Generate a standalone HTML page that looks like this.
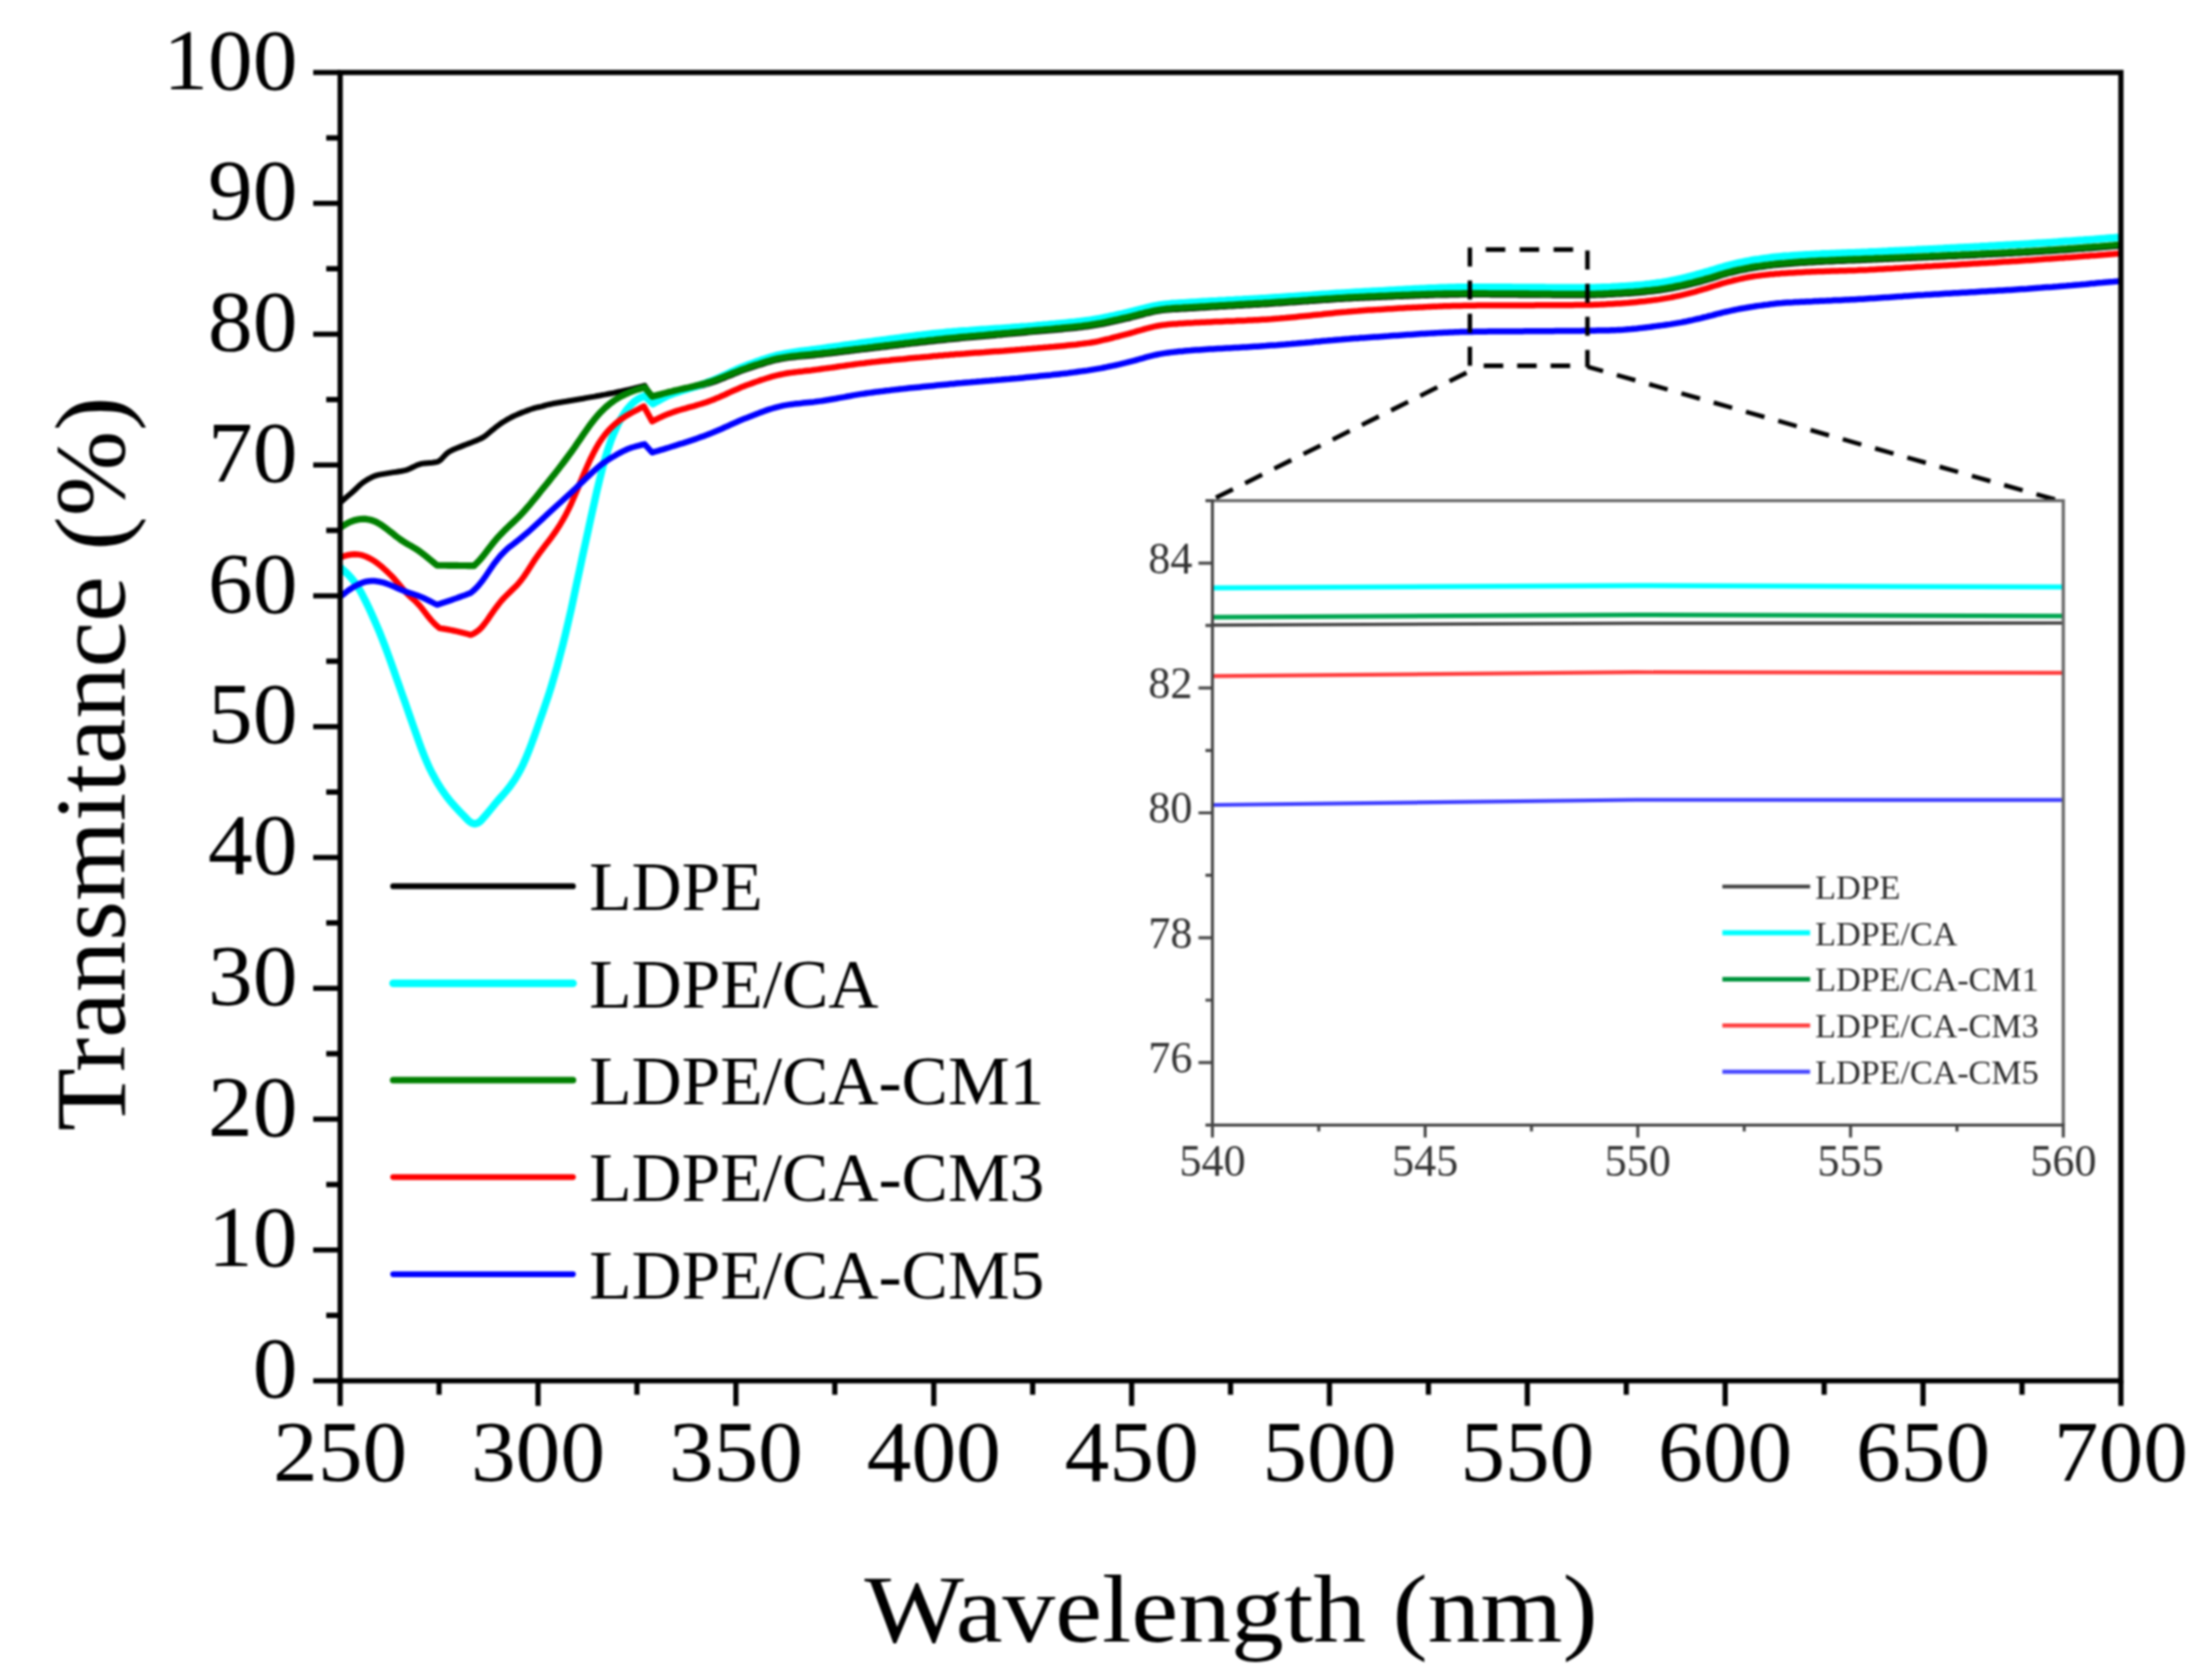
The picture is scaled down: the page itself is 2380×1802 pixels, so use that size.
<!DOCTYPE html>
<html lang="en"><head><meta charset="utf-8"><title>UV-Vis transmittance</title>
<style>html,body{margin:0;padding:0;background:#fff}body{width:2380px;height:1802px;overflow:hidden}svg{display:block;filter:blur(0.9px)}text{font-family:"Liberation Serif","DejaVu Serif",serif}</style></head><body>
<svg width="2380" height="1802" viewBox="0 0 2380 1802">
<rect width="2380" height="1802" fill="#fff"/>
<g fill="none" stroke-linejoin="round" stroke-linecap="butt">
<path d="M366.3 540.4 L369.3 537.9 L372.3 535.3 L375.3 532.8 L378.3 530.2 L381.3 527.5 L384.3 524.6 L387.3 521.8 L390.3 519.3 L393.3 517.3 L396.3 515.4 L399.3 513.8 L402.3 512.4 L405.3 511.4 L408.3 510.6 L411.3 510.1 L414.3 509.6 L417.3 509.1 L420.3 508.6 L423.4 508.1 L426.4 507.7 L429.4 507.2 L432.4 506.7 L435.4 506.1 L438.4 505.3 L441.4 504.0 L444.4 502.5 L447.4 501.1 L450.4 499.8 L453.4 498.9 L456.4 498.5 L459.4 498.2 L462.4 497.9 L465.4 497.7 L468.4 497.3 L471.4 496.6 L474.4 494.5 L477.4 491.3 L480.4 488.2 L483.4 485.9 L486.4 484.3 L489.4 483.0 L492.4 481.8 L495.4 480.6 L498.4 479.4 L501.4 478.2 L504.4 477.1 L507.4 476.0 L510.4 474.8 L513.4 473.6 L516.4 472.3 L519.4 470.8 L522.4 468.8 L525.4 466.3 L528.4 463.7 L531.5 461.3 L534.5 458.8 L537.5 456.6 L540.5 454.5 L543.5 452.7 L546.5 450.9 L549.5 449.3 L552.5 447.8 L555.5 446.4 L558.5 445.1 L561.5 443.9 L564.5 442.8 L567.5 441.6 L570.5 440.5 L573.5 439.5 L576.5 438.7 L579.5 438.0 L582.5 437.3 L585.5 436.5 L588.5 435.7 L591.5 435.0 L594.5 434.3 L597.5 433.8 L600.5 433.3 L603.5 432.8 L606.5 432.3 L609.5 431.8 L612.5 431.2 L615.5 430.7 L618.5 430.2 L621.5 429.7 L624.5 429.2 L627.5 428.7 L630.5 428.1 L633.5 427.6 L636.5 427.1 L639.6 426.6 L642.6 426.0 L645.6 425.5 L648.6 424.9 L651.6 424.4 L654.6 423.8 L657.6 423.2 L660.6 422.6 L663.6 421.9 L666.6 421.3 L669.6 420.6 L672.6 420.0 L675.6 419.3 L678.6 418.6 L681.6 417.9 L684.6 417.1 L687.6 416.4 L690.6 415.7 L693.6 414.9 L701.7 428.1 L704.7 427.3 L707.7 426.5 L710.7 425.6 L713.7 424.8 L716.7 424.1 L719.7 423.3 L722.7 422.5 L725.7 421.8 L728.7 421.1 L731.7 420.4 L734.7 419.7 L737.7 419.0 L740.7 418.4 L743.7 417.7 L746.7 417.0 L749.7 416.3 L752.7 415.5 L755.7 414.8 L758.7 414.0 L761.7 413.1 L764.7 412.2 L767.7 411.2 L770.7 410.1 L773.7 409.0 L776.7 407.8 L779.7 406.6 L782.7 405.3 L785.7 404.1 L788.7 402.9 L791.7 401.6 L794.7 400.4 L797.7 399.3 L800.7 398.2 L803.7 397.2 L806.7 396.2 L809.7 395.2 L812.7 394.2 L815.7 393.2 L818.7 392.3 L821.7 391.3 L824.7 390.4 L827.7 389.5 L830.7 388.7 L833.7 387.9 L836.7 387.2 L839.7 386.6 L842.7 386.0 L845.7 385.6 L848.7 385.1 L851.7 384.8 L854.7 384.4 L857.7 384.1 L860.7 383.8 L863.7 383.6 L866.7 383.3 L869.7 383.0 L872.7 382.7 L875.7 382.5 L878.7 382.1 L881.7 381.8 L884.7 381.5 L887.7 381.1 L890.7 380.8 L893.7 380.4 L896.7 380.1 L899.7 379.7 L902.7 379.3 L905.7 379.0 L908.7 378.6 L911.7 378.2 L914.7 377.9 L917.7 377.5 L920.7 377.1 L923.7 376.8 L926.7 376.4 L929.7 376.0 L932.7 375.7 L935.7 375.3 L938.7 375.0 L941.7 374.6 L944.7 374.2 L947.7 373.9 L950.7 373.5 L953.7 373.2 L956.7 372.8 L959.7 372.4 L962.7 372.1 L965.8 371.7 L968.8 371.3 L971.8 371.0 L974.8 370.6 L977.8 370.3 L980.8 369.9 L983.8 369.5 L986.8 369.2 L989.8 368.8 L992.8 368.5 L995.8 368.2 L998.8 367.8 L1001.8 367.5 L1004.8 367.2 L1007.8 366.8 L1010.8 366.5 L1013.8 366.2 L1016.8 365.9 L1019.8 365.6 L1022.8 365.3 L1025.8 365.0 L1028.8 364.7 L1031.8 364.4 L1034.8 364.1 L1037.8 363.8 L1040.8 363.6 L1043.8 363.3 L1046.8 363.0 L1049.8 362.7 L1052.8 362.5 L1055.8 362.2 L1058.8 361.9 L1061.8 361.7 L1064.8 361.4 L1067.8 361.2 L1070.8 360.9 L1073.8 360.6 L1076.8 360.4 L1079.8 360.1 L1082.8 359.8 L1085.8 359.6 L1088.8 359.3 L1091.8 359.0 L1094.8 358.8 L1097.8 358.5 L1100.8 358.2 L1103.8 357.9 L1106.8 357.6 L1109.8 357.3 L1112.8 357.1 L1115.8 356.8 L1118.8 356.5 L1121.8 356.3 L1124.8 356.0 L1127.8 355.7 L1130.8 355.5 L1133.8 355.2 L1136.8 354.9 L1139.8 354.7 L1142.8 354.4 L1145.8 354.1 L1148.8 353.8 L1151.8 353.5 L1154.8 353.2 L1157.8 352.9 L1160.8 352.6 L1163.8 352.2 L1166.8 351.8 L1169.8 351.5 L1172.8 351.1 L1175.8 350.6 L1178.8 350.1 L1181.8 349.6 L1184.8 349.1 L1187.8 348.5 L1190.8 347.8 L1193.8 347.2 L1196.8 346.5 L1199.8 345.8 L1202.8 345.2 L1205.8 344.5 L1208.8 343.9 L1211.8 343.2 L1214.8 342.5 L1217.8 341.7 L1220.8 340.9 L1223.8 340.1 L1226.8 339.3 L1229.8 338.5 L1232.8 337.7 L1235.8 337.0 L1238.8 336.3 L1241.8 335.6 L1244.8 335.1 L1247.8 334.6 L1250.8 334.1 L1253.8 333.8 L1256.8 333.6 L1259.8 333.3 L1262.8 333.1 L1265.8 332.9 L1268.8 332.7 L1271.8 332.5 L1274.8 332.4 L1277.8 332.2 L1280.8 332.1 L1283.8 331.9 L1286.8 331.7 L1289.8 331.5 L1292.8 331.3 L1295.8 331.2 L1298.8 331.0 L1301.8 330.8 L1304.8 330.6 L1307.8 330.5 L1310.8 330.3 L1313.8 330.1 L1316.8 330.0 L1319.8 329.8 L1322.8 329.6 L1325.8 329.5 L1328.8 329.3 L1331.8 329.1 L1334.8 328.9 L1337.8 328.8 L1340.8 328.6 L1343.8 328.4 L1346.8 328.3 L1349.8 328.1 L1352.8 327.9 L1355.8 327.7 L1358.8 327.6 L1361.8 327.4 L1364.8 327.2 L1367.8 327.0 L1370.8 326.8 L1373.8 326.6 L1376.8 326.4 L1379.8 326.2 L1382.8 326.0 L1385.8 325.8 L1388.8 325.6 L1391.8 325.4 L1394.8 325.2 L1397.8 325.0 L1400.8 324.8 L1403.8 324.6 L1406.8 324.4 L1409.8 324.1 L1412.8 323.9 L1415.8 323.7 L1418.8 323.5 L1421.8 323.3 L1424.8 323.1 L1427.8 322.9 L1430.8 322.7 L1433.8 322.5 L1436.8 322.3 L1439.8 322.1 L1442.8 322.0 L1445.8 321.8 L1448.8 321.6 L1451.8 321.4 L1454.8 321.3 L1457.8 321.1 L1460.8 321.0 L1463.8 320.8 L1466.8 320.7 L1469.8 320.5 L1472.8 320.4 L1475.8 320.3 L1478.8 320.2 L1481.8 320.0 L1484.8 319.9 L1487.8 319.8 L1490.8 319.7 L1493.9 319.5 L1496.9 319.4 L1499.9 319.3 L1502.9 319.1 L1505.9 319.0 L1508.9 318.9 L1511.9 318.8 L1514.9 318.7 L1517.9 318.5 L1520.9 318.4 L1523.9 318.3 L1526.9 318.2 L1529.9 318.1 L1532.9 318.0 L1535.9 317.9 L1538.9 317.8 L1541.9 317.7 L1544.9 317.6 L1547.9 317.6 L1550.9 317.5 L1553.9 317.4 L1556.9 317.4 L1559.9 317.3 L1562.9 317.3 L1565.9 317.2 L1568.9 317.2 L1571.9 317.1 L1574.9 317.1 L1577.9 317.1 L1580.9 317.1 L1583.9 317.1 L1586.9 317.1 L1589.9 317.1 L1592.9 317.1 L1595.9 317.1 L1598.9 317.1 L1601.9 317.1 L1604.9 317.2 L1607.9 317.2 L1610.9 317.2 L1613.9 317.2 L1616.9 317.2 L1619.9 317.3 L1622.9 317.3 L1625.9 317.3 L1628.9 317.3 L1631.9 317.3 L1634.9 317.4 L1637.9 317.4 L1640.9 317.4 L1643.9 317.4 L1646.9 317.5 L1649.9 317.5 L1652.9 317.5 L1655.9 317.5 L1658.9 317.6 L1661.9 317.6 L1664.9 317.6 L1667.9 317.6 L1670.9 317.7 L1673.9 317.7 L1676.9 317.7 L1679.9 317.7 L1682.9 317.7 L1685.9 317.7 L1688.9 317.8 L1691.9 317.8 L1694.9 317.8 L1697.9 317.8 L1700.9 317.8 L1703.9 317.8 L1706.9 317.8 L1709.9 317.8 L1712.9 317.8 L1715.9 317.7 L1718.9 317.6 L1721.9 317.5 L1724.9 317.4 L1727.9 317.2 L1730.9 317.1 L1733.9 316.9 L1736.9 316.8 L1739.9 316.6 L1742.9 316.5 L1745.9 316.3 L1748.9 316.1 L1751.9 315.9 L1754.9 315.7 L1757.9 315.5 L1760.9 315.2 L1763.9 315.0 L1766.9 314.7 L1769.9 314.4 L1772.9 314.1 L1775.9 313.8 L1778.9 313.5 L1781.9 313.1 L1784.9 312.8 L1787.9 312.3 L1790.9 311.9 L1793.9 311.3 L1796.9 310.8 L1799.9 310.2 L1802.9 309.6 L1805.9 309.0 L1808.9 308.4 L1811.9 307.8 L1814.9 307.1 L1817.9 306.4 L1820.9 305.6 L1823.9 304.9 L1826.9 304.1 L1829.9 303.3 L1832.9 302.4 L1835.9 301.6 L1838.9 300.7 L1841.9 299.8 L1844.9 298.9 L1847.9 297.9 L1850.9 296.9 L1853.9 296.0 L1856.9 295.1 L1859.9 294.2 L1862.9 293.5 L1865.9 292.8 L1868.9 292.1 L1871.9 291.4 L1874.9 290.8 L1877.9 290.2 L1880.9 289.6 L1883.9 289.1 L1886.9 288.6 L1889.9 288.1 L1892.9 287.6 L1895.9 287.2 L1898.9 286.8 L1901.9 286.4 L1904.9 286.0 L1907.9 285.6 L1910.9 285.3 L1913.9 285.0 L1916.9 284.7 L1919.9 284.4 L1922.9 284.2 L1925.9 284.0 L1928.9 283.7 L1931.9 283.5 L1934.9 283.3 L1937.9 283.1 L1940.9 282.9 L1943.9 282.8 L1946.9 282.6 L1949.9 282.4 L1952.9 282.3 L1955.9 282.1 L1958.9 281.9 L1961.9 281.8 L1964.9 281.6 L1967.9 281.5 L1970.9 281.4 L1973.9 281.2 L1976.9 281.1 L1979.9 281.0 L1982.9 280.9 L1985.9 280.8 L1988.9 280.6 L1991.9 280.5 L1994.9 280.4 L1997.9 280.3 L2000.9 280.2 L2003.9 280.0 L2006.9 279.9 L2009.9 279.8 L2012.9 279.7 L2015.9 279.5 L2019.0 279.4 L2022.0 279.3 L2025.0 279.2 L2028.0 279.1 L2031.0 279.0 L2034.0 278.8 L2037.0 278.7 L2040.0 278.6 L2043.0 278.5 L2046.0 278.3 L2049.0 278.2 L2052.0 278.1 L2055.0 278.0 L2058.0 277.8 L2061.0 277.7 L2064.0 277.6 L2067.0 277.5 L2070.0 277.3 L2073.0 277.2 L2076.0 277.1 L2079.0 276.9 L2082.0 276.8 L2085.0 276.7 L2088.0 276.5 L2091.0 276.4 L2094.0 276.3 L2097.0 276.1 L2100.0 276.0 L2103.0 275.9 L2106.0 275.7 L2109.0 275.6 L2112.0 275.4 L2115.0 275.3 L2118.0 275.2 L2121.0 275.0 L2124.0 274.9 L2127.0 274.7 L2130.0 274.6 L2133.0 274.4 L2136.0 274.3 L2139.0 274.1 L2142.0 274.0 L2145.0 273.8 L2148.0 273.7 L2151.0 273.5 L2154.0 273.4 L2157.0 273.2 L2160.0 273.1 L2163.0 272.9 L2166.0 272.7 L2169.0 272.6 L2172.0 272.4 L2175.0 272.2 L2178.0 272.1 L2181.0 271.9 L2184.0 271.7 L2187.0 271.5 L2190.0 271.3 L2193.0 271.2 L2196.0 271.0 L2199.0 270.8 L2202.0 270.6 L2205.0 270.4 L2208.0 270.2 L2211.0 270.0 L2214.0 269.8 L2217.0 269.6 L2220.0 269.4 L2223.0 269.2 L2226.0 269.0 L2229.0 268.7 L2232.0 268.5 L2235.0 268.3 L2238.0 268.1 L2241.0 267.9 L2244.0 267.6 L2247.0 267.4 L2250.0 267.2 L2253.0 266.9 L2256.0 266.7 L2259.0 266.5 L2262.0 266.2 L2265.0 266.0 L2268.0 265.8 L2271.0 265.5 L2274.0 265.3 L2277.0 265.0 L2280.0 264.8" stroke="#000" stroke-width="6.0"/>
<path d="M366.3 610.5 L369.3 613.2 L372.3 616.0 L375.3 618.9 L378.3 622.2 L381.3 625.9 L384.3 630.3 L387.3 635.2 L390.3 640.7 L393.3 646.6 L396.3 652.8 L399.3 659.3 L402.3 666.0 L405.3 672.8 L408.3 679.9 L411.3 687.4 L414.3 695.2 L417.3 703.3 L420.3 711.7 L423.3 720.1 L426.3 728.7 L429.3 737.2 L432.3 745.8 L435.4 754.4 L438.4 763.0 L441.4 771.6 L444.4 780.2 L447.4 788.7 L450.4 797.1 L453.4 805.3 L456.4 813.0 L459.4 820.2 L462.4 826.8 L465.4 832.7 L468.4 838.2 L471.4 843.4 L474.4 848.2 L477.4 852.6 L480.4 856.8 L483.4 860.6 L486.4 864.1 L489.4 867.5 L492.4 870.7 L495.4 873.9 L498.4 877.0 L501.4 880.1 L504.4 883.2 L504.4 883.2 L507.6 885.4 L510.8 886.3 L514.1 885.4 L517.3 883.2 L517.3 883.2 L520.3 879.7 L523.4 876.1 L526.4 872.5 L529.5 868.8 L532.5 865.1 L535.5 861.5 L538.6 858.0 L541.6 854.6 L544.7 851.0 L547.7 847.3 L550.7 843.2 L553.8 838.8 L556.8 833.8 L559.9 828.3 L562.9 822.2 L565.9 815.3 L569.0 807.8 L572.0 799.9 L575.1 791.5 L578.1 783.0 L581.1 774.3 L584.2 765.6 L587.2 756.7 L590.3 747.6 L593.3 738.0 L596.3 727.8 L599.4 717.1 L602.4 705.8 L605.5 694.0 L608.5 681.7 L611.5 668.8 L614.6 655.4 L617.6 641.4 L620.6 627.2 L623.7 612.9 L626.7 598.7 L629.8 584.7 L632.8 570.8 L635.8 556.9 L638.9 543.1 L641.9 529.6 L645.0 516.6 L648.0 504.5 L651.0 493.5 L654.1 483.5 L657.1 474.6 L660.2 466.8 L663.2 459.9 L666.2 453.8 L669.3 448.4 L672.3 443.7 L675.4 439.5 L678.4 436.0 L681.4 433.0 L684.5 430.6 L687.5 428.7 L690.6 427.1 L693.6 425.8 L702.6 434.4 L705.6 432.6 L708.6 430.9 L711.6 429.2 L714.6 427.6 L717.6 426.2 L720.6 424.9 L723.6 423.7 L726.6 422.6 L729.6 421.6 L732.6 420.6 L735.7 419.7 L738.7 418.8 L741.7 418.0 L744.7 417.0 L747.7 416.1 L750.7 415.1 L753.7 414.1 L756.7 413.0 L759.7 412.0 L762.7 410.8 L765.7 409.6 L768.7 408.4 L771.7 407.1 L774.7 405.8 L777.7 404.4 L780.7 403.0 L783.7 401.6 L786.7 400.2 L789.7 398.8 L792.7 397.5 L795.7 396.2 L798.7 394.9 L801.8 393.7 L804.8 392.6 L807.8 391.5 L810.8 390.4 L813.8 389.3 L816.8 388.3 L819.8 387.2 L822.8 386.3 L825.8 385.3 L828.8 384.4 L831.8 383.5 L834.8 382.7 L837.8 382.0 L840.8 381.3 L843.8 380.7 L846.8 380.1 L849.8 379.6 L852.8 379.1 L855.8 378.6 L858.8 378.2 L861.8 377.8 L864.8 377.4 L867.9 377.1 L870.9 376.7 L873.9 376.3 L876.9 375.9 L879.9 375.5 L882.9 375.1 L885.9 374.7 L888.9 374.3 L891.9 373.8 L894.9 373.4 L897.9 373.0 L900.9 372.6 L903.9 372.2 L906.9 371.7 L909.9 371.3 L912.9 370.9 L915.9 370.5 L918.9 370.1 L921.9 369.7 L924.9 369.2 L927.9 368.8 L930.9 368.4 L934.0 368.0 L937.0 367.6 L940.0 367.2 L943.0 366.8 L946.0 366.4 L949.0 366.0 L952.0 365.6 L955.0 365.2 L958.0 364.8 L961.0 364.4 L964.0 364.0 L967.0 363.6 L970.0 363.2 L973.0 362.8 L976.0 362.4 L979.0 362.0 L982.0 361.6 L985.0 361.2 L988.0 360.8 L991.0 360.5 L994.0 360.1 L997.0 359.8 L1000.1 359.4 L1003.1 359.1 L1006.1 358.8 L1009.1 358.5 L1012.1 358.2 L1015.1 357.9 L1018.1 357.6 L1021.1 357.3 L1024.1 357.1 L1027.1 356.8 L1030.1 356.6 L1033.1 356.3 L1036.1 356.1 L1039.1 355.9 L1042.1 355.7 L1045.1 355.4 L1048.1 355.2 L1051.1 355.0 L1054.1 354.8 L1057.1 354.6 L1060.1 354.4 L1063.1 354.2 L1066.2 354.0 L1069.2 353.8 L1072.2 353.6 L1075.2 353.4 L1078.2 353.2 L1081.2 353.0 L1084.2 352.8 L1087.2 352.6 L1090.2 352.3 L1093.2 352.1 L1096.2 351.9 L1099.2 351.6 L1102.2 351.4 L1105.2 351.2 L1108.2 350.9 L1111.2 350.7 L1114.2 350.4 L1117.2 350.1 L1120.2 349.9 L1123.2 349.6 L1126.2 349.4 L1129.2 349.1 L1132.3 348.8 L1135.3 348.6 L1138.3 348.3 L1141.3 348.0 L1144.3 347.7 L1147.3 347.4 L1150.3 347.1 L1153.3 346.8 L1156.3 346.5 L1159.3 346.1 L1162.3 345.8 L1165.3 345.4 L1168.3 345.0 L1171.3 344.6 L1174.3 344.2 L1177.3 343.7 L1180.3 343.2 L1183.3 342.7 L1186.3 342.1 L1189.3 341.5 L1192.3 340.9 L1195.3 340.2 L1198.4 339.6 L1201.4 338.9 L1204.4 338.2 L1207.4 337.6 L1210.4 336.9 L1213.4 336.2 L1216.4 335.4 L1219.4 334.7 L1222.4 333.9 L1225.4 333.1 L1228.4 332.3 L1231.4 331.6 L1234.4 330.8 L1237.4 330.1 L1240.4 329.5 L1243.4 328.9 L1246.4 328.3 L1249.4 327.9 L1252.4 327.5 L1255.4 327.2 L1258.4 326.9 L1261.5 326.6 L1264.5 326.4 L1267.5 326.2 L1270.5 326.0 L1273.5 325.9 L1276.5 325.7 L1279.5 325.5 L1282.5 325.3 L1285.5 325.2 L1288.5 325.0 L1291.5 324.8 L1294.5 324.6 L1297.5 324.5 L1300.5 324.3 L1303.5 324.1 L1306.5 323.9 L1309.5 323.8 L1312.5 323.6 L1315.5 323.4 L1318.5 323.3 L1321.5 323.1 L1324.5 322.9 L1327.6 322.8 L1330.6 322.6 L1333.6 322.4 L1336.6 322.3 L1339.6 322.1 L1342.6 321.9 L1345.6 321.7 L1348.6 321.6 L1351.6 321.4 L1354.6 321.2 L1357.6 321.0 L1360.6 320.9 L1363.6 320.7 L1366.6 320.5 L1369.6 320.3 L1372.6 320.1 L1375.6 319.9 L1378.6 319.7 L1381.6 319.5 L1384.6 319.3 L1387.6 319.1 L1390.6 318.9 L1393.7 318.7 L1396.7 318.5 L1399.7 318.3 L1402.7 318.1 L1405.7 317.9 L1408.7 317.7 L1411.7 317.5 L1414.7 317.2 L1417.7 317.0 L1420.7 316.8 L1423.7 316.6 L1426.7 316.4 L1429.7 316.2 L1432.7 316.0 L1435.7 315.8 L1438.7 315.6 L1441.7 315.4 L1444.7 315.2 L1447.7 315.1 L1450.7 314.9 L1453.7 314.7 L1456.7 314.5 L1459.8 314.3 L1462.8 314.2 L1465.8 314.0 L1468.8 313.8 L1471.8 313.7 L1474.8 313.5 L1477.8 313.3 L1480.8 313.2 L1483.8 313.0 L1486.8 312.9 L1489.8 312.7 L1492.8 312.5 L1495.8 312.3 L1498.8 312.2 L1501.8 312.0 L1504.8 311.8 L1507.8 311.7 L1510.8 311.5 L1513.8 311.3 L1516.8 311.2 L1519.8 311.0 L1522.8 310.8 L1525.9 310.7 L1528.9 310.5 L1531.9 310.4 L1534.9 310.2 L1537.9 310.1 L1540.9 310.0 L1543.9 309.9 L1546.9 309.7 L1549.9 309.6 L1552.9 309.5 L1555.9 309.4 L1558.9 309.3 L1561.9 309.3 L1564.9 309.2 L1567.9 309.1 L1570.9 309.1 L1573.9 309.1 L1576.9 309.0 L1579.9 309.0 L1582.9 309.0 L1585.9 309.0 L1588.9 309.0 L1592.0 309.0 L1595.0 309.0 L1598.0 309.0 L1601.0 309.0 L1604.0 309.0 L1607.0 309.1 L1610.0 309.1 L1613.0 309.1 L1616.0 309.1 L1619.0 309.1 L1622.0 309.1 L1625.0 309.1 L1628.0 309.2 L1631.0 309.2 L1634.0 309.2 L1637.0 309.2 L1640.0 309.2 L1643.0 309.2 L1646.0 309.3 L1649.0 309.3 L1652.0 309.3 L1655.0 309.3 L1658.1 309.3 L1661.1 309.3 L1664.1 309.4 L1667.1 309.4 L1670.1 309.4 L1673.1 309.4 L1676.1 309.4 L1679.1 309.4 L1682.1 309.4 L1685.1 309.5 L1688.1 309.5 L1691.1 309.5 L1694.1 309.5 L1697.1 309.5 L1700.1 309.5 L1703.1 309.5 L1706.1 309.5 L1709.1 309.5 L1712.1 309.4 L1715.1 309.4 L1718.1 309.3 L1721.1 309.2 L1724.2 309.1 L1727.2 309.0 L1730.2 308.9 L1733.2 308.8 L1736.2 308.6 L1739.2 308.5 L1742.2 308.3 L1745.2 308.1 L1748.2 307.9 L1751.2 307.7 L1754.2 307.5 L1757.2 307.3 L1760.2 307.0 L1763.2 306.7 L1766.2 306.5 L1769.2 306.2 L1772.2 305.8 L1775.2 305.5 L1778.2 305.1 L1781.2 304.8 L1784.2 304.3 L1787.3 303.9 L1790.3 303.4 L1793.3 302.9 L1796.3 302.3 L1799.3 301.7 L1802.3 301.1 L1805.3 300.5 L1808.3 299.8 L1811.3 299.1 L1814.3 298.4 L1817.3 297.6 L1820.3 296.8 L1823.3 296.0 L1826.3 295.2 L1829.3 294.4 L1832.3 293.5 L1835.3 292.6 L1838.3 291.8 L1841.3 290.9 L1844.3 290.0 L1847.3 289.0 L1850.3 288.1 L1853.4 287.3 L1856.4 286.4 L1859.4 285.6 L1862.4 284.8 L1865.4 284.1 L1868.4 283.4 L1871.4 282.7 L1874.4 282.1 L1877.4 281.5 L1880.4 280.9 L1883.4 280.3 L1886.4 279.8 L1889.4 279.3 L1892.4 278.9 L1895.4 278.4 L1898.4 278.0 L1901.4 277.6 L1904.4 277.2 L1907.4 276.8 L1910.4 276.5 L1913.4 276.2 L1916.4 275.9 L1919.5 275.6 L1922.5 275.4 L1925.5 275.2 L1928.5 274.9 L1931.5 274.7 L1934.5 274.6 L1937.5 274.4 L1940.5 274.2 L1943.5 274.0 L1946.5 273.9 L1949.5 273.7 L1952.5 273.6 L1955.5 273.4 L1958.5 273.3 L1961.5 273.1 L1964.5 273.0 L1967.5 272.9 L1970.5 272.8 L1973.5 272.7 L1976.5 272.6 L1979.5 272.5 L1982.5 272.3 L1985.6 272.2 L1988.6 272.1 L1991.6 272.0 L1994.6 271.9 L1997.6 271.8 L2000.6 271.7 L2003.6 271.5 L2006.6 271.4 L2009.6 271.3 L2012.6 271.1 L2015.6 271.0 L2018.6 270.9 L2021.6 270.7 L2024.6 270.6 L2027.6 270.4 L2030.6 270.3 L2033.6 270.1 L2036.6 270.0 L2039.6 269.8 L2042.6 269.7 L2045.6 269.5 L2048.6 269.4 L2051.7 269.2 L2054.7 269.1 L2057.7 268.9 L2060.7 268.8 L2063.7 268.6 L2066.7 268.5 L2069.7 268.3 L2072.7 268.2 L2075.7 268.0 L2078.7 267.9 L2081.7 267.7 L2084.7 267.6 L2087.7 267.4 L2090.7 267.3 L2093.7 267.1 L2096.7 267.0 L2099.7 266.8 L2102.7 266.7 L2105.7 266.5 L2108.7 266.3 L2111.7 266.2 L2114.7 266.0 L2117.8 265.9 L2120.8 265.7 L2123.8 265.6 L2126.8 265.4 L2129.8 265.3 L2132.8 265.1 L2135.8 264.9 L2138.8 264.8 L2141.8 264.6 L2144.8 264.5 L2147.8 264.3 L2150.8 264.1 L2153.8 264.0 L2156.8 263.8 L2159.8 263.6 L2162.8 263.5 L2165.8 263.3 L2168.8 263.1 L2171.8 262.9 L2174.8 262.7 L2177.8 262.6 L2180.8 262.4 L2183.9 262.2 L2186.9 262.0 L2189.9 261.8 L2192.9 261.6 L2195.9 261.4 L2198.9 261.2 L2201.9 261.1 L2204.9 260.9 L2207.9 260.7 L2210.9 260.5 L2213.9 260.3 L2216.9 260.0 L2219.9 259.8 L2222.9 259.6 L2225.9 259.4 L2228.9 259.2 L2231.9 259.0 L2234.9 258.8 L2237.9 258.6 L2240.9 258.4 L2243.9 258.1 L2246.9 257.9 L2250.0 257.7 L2253.0 257.5 L2256.0 257.2 L2259.0 257.0 L2262.0 256.8 L2265.0 256.6 L2268.0 256.3 L2271.0 256.1 L2274.0 255.9 L2277.0 255.6 L2280.0 255.4" stroke="#00ffff" stroke-width="8.0"/>
<path d="M366.3 567.5 L369.4 565.5 L372.4 563.7 L375.5 562.1 L378.5 560.8 L381.6 559.7 L384.7 559.0 L387.7 558.5 L390.8 558.3 L393.8 558.4 L396.9 558.9 L399.9 559.7 L403.0 560.8 L406.1 562.3 L409.1 564.0 L412.2 566.1 L415.2 568.3 L418.3 570.7 L421.4 573.1 L424.4 575.6 L427.5 578.0 L430.5 580.2 L433.6 582.3 L436.7 584.2 L439.7 586.0 L442.8 587.7 L445.8 589.5 L448.9 591.4 L451.9 593.5 L455.0 595.8 L458.1 598.2 L461.1 600.7 L464.2 603.2 L467.2 605.7 L470.3 608.2 L470.3 608.2 L473.4 608.2 L476.4 608.3 L479.5 608.3 L482.5 608.4 L485.6 608.4 L488.6 608.4 L491.7 608.4 L494.7 608.5 L497.8 608.5 L500.8 608.5 L503.9 608.6 L506.9 608.6 L510.0 608.6 L510.0 608.6 L513.0 605.7 L516.0 602.6 L519.0 599.2 L522.0 595.3 L525.0 591.3 L528.1 587.3 L531.1 583.5 L534.1 579.9 L537.1 576.6 L540.1 573.5 L543.1 570.4 L546.1 567.5 L549.1 564.7 L552.1 561.9 L555.1 559.0 L558.2 556.0 L561.2 552.9 L564.2 549.6 L567.2 546.2 L570.2 542.7 L573.2 539.1 L576.2 535.4 L579.2 531.7 L582.2 527.9 L585.2 524.2 L588.3 520.5 L591.3 516.7 L594.3 512.9 L597.3 509.2 L600.3 505.3 L603.3 501.4 L606.3 497.5 L609.3 493.5 L612.3 489.4 L615.3 485.3 L618.4 481.0 L621.4 476.6 L624.4 472.2 L627.4 467.8 L630.4 463.5 L633.4 459.2 L636.4 455.2 L639.4 451.3 L642.4 447.7 L645.4 444.3 L648.5 441.2 L651.5 438.3 L654.5 435.7 L657.5 433.3 L660.5 431.1 L663.5 429.1 L666.5 427.3 L669.5 425.7 L672.5 424.2 L675.5 422.9 L678.6 421.6 L681.6 420.5 L684.6 419.4 L687.6 418.5 L690.6 417.6 L693.6 416.7 L701.7 426.6 L704.7 425.8 L707.7 425.0 L710.7 424.2 L713.7 423.4 L716.7 422.6 L719.7 421.8 L722.7 421.1 L725.7 420.3 L728.7 419.6 L731.7 418.9 L734.7 418.2 L737.7 417.5 L740.7 416.9 L743.7 416.2 L746.7 415.5 L749.7 414.7 L752.7 414.0 L755.7 413.2 L758.7 412.4 L761.7 411.5 L764.7 410.6 L767.7 409.6 L770.7 408.5 L773.7 407.4 L776.7 406.2 L779.7 405.0 L782.7 403.8 L785.7 402.6 L788.7 401.4 L791.7 400.2 L794.7 399.0 L797.7 397.9 L800.7 396.8 L803.7 395.8 L806.7 394.7 L809.7 393.7 L812.7 392.7 L815.7 391.8 L818.7 390.8 L821.7 389.9 L824.7 389.0 L827.7 388.1 L830.7 387.3 L833.7 386.5 L836.7 385.8 L839.7 385.2 L842.7 384.7 L845.7 384.2 L848.7 383.7 L851.7 383.3 L854.7 383.0 L857.7 382.7 L860.7 382.4 L863.7 382.1 L866.7 381.8 L869.7 381.5 L872.7 381.2 L875.7 380.9 L878.7 380.6 L881.7 380.3 L884.7 379.9 L887.7 379.6 L890.7 379.3 L893.7 378.9 L896.7 378.5 L899.7 378.2 L902.7 377.8 L905.7 377.5 L908.7 377.1 L911.7 376.7 L914.7 376.4 L917.7 376.0 L920.7 375.6 L923.7 375.3 L926.7 374.9 L929.7 374.5 L932.7 374.2 L935.7 373.8 L938.7 373.5 L941.7 373.1 L944.7 372.7 L947.7 372.4 L950.7 372.0 L953.7 371.6 L956.7 371.3 L959.7 370.9 L962.7 370.6 L965.8 370.2 L968.8 369.8 L971.8 369.5 L974.8 369.1 L977.8 368.8 L980.8 368.4 L983.8 368.0 L986.8 367.7 L989.8 367.3 L992.8 367.0 L995.8 366.7 L998.8 366.3 L1001.8 366.0 L1004.8 365.7 L1007.8 365.3 L1010.8 365.0 L1013.8 364.7 L1016.8 364.4 L1019.8 364.1 L1022.8 363.8 L1025.8 363.5 L1028.8 363.2 L1031.8 362.9 L1034.8 362.6 L1037.8 362.3 L1040.8 362.1 L1043.8 361.8 L1046.8 361.5 L1049.8 361.3 L1052.8 361.0 L1055.8 360.7 L1058.8 360.5 L1061.8 360.2 L1064.8 359.9 L1067.8 359.7 L1070.8 359.4 L1073.8 359.1 L1076.8 358.9 L1079.8 358.6 L1082.8 358.3 L1085.8 358.1 L1088.8 357.8 L1091.8 357.5 L1094.8 357.2 L1097.8 357.0 L1100.8 356.7 L1103.8 356.4 L1106.8 356.1 L1109.8 355.9 L1112.8 355.6 L1115.8 355.3 L1118.8 355.0 L1121.8 354.8 L1124.8 354.5 L1127.8 354.2 L1130.8 354.0 L1133.8 353.7 L1136.8 353.4 L1139.8 353.2 L1142.8 352.9 L1145.8 352.6 L1148.8 352.3 L1151.8 352.0 L1154.8 351.7 L1157.8 351.4 L1160.8 351.0 L1163.8 350.7 L1166.8 350.3 L1169.8 349.9 L1172.8 349.5 L1175.8 349.0 L1178.8 348.6 L1181.8 348.0 L1184.8 347.5 L1187.8 346.9 L1190.8 346.3 L1193.8 345.6 L1196.8 345.0 L1199.8 344.3 L1202.8 343.7 L1205.8 343.0 L1208.8 342.3 L1211.8 341.6 L1214.8 340.9 L1217.8 340.2 L1220.8 339.4 L1223.8 338.6 L1226.8 337.8 L1229.8 337.1 L1232.8 336.3 L1235.8 335.6 L1238.8 334.9 L1241.8 334.3 L1244.8 333.7 L1247.8 333.2 L1250.8 332.8 L1253.8 332.4 L1256.8 332.1 L1259.8 331.9 L1262.8 331.6 L1265.8 331.4 L1268.8 331.2 L1271.8 331.1 L1274.8 330.9 L1277.8 330.7 L1280.8 330.5 L1283.8 330.4 L1286.8 330.2 L1289.8 330.0 L1292.8 329.8 L1295.8 329.7 L1298.8 329.5 L1301.8 329.3 L1304.8 329.1 L1307.8 329.0 L1310.8 328.8 L1313.8 328.6 L1316.8 328.5 L1319.8 328.3 L1322.8 328.1 L1325.8 328.0 L1328.8 327.8 L1331.8 327.6 L1334.8 327.4 L1337.8 327.3 L1340.8 327.1 L1343.8 326.9 L1346.8 326.8 L1349.8 326.6 L1352.8 326.4 L1355.8 326.2 L1358.8 326.1 L1361.8 325.9 L1364.8 325.7 L1367.8 325.5 L1370.8 325.3 L1373.8 325.1 L1376.8 324.9 L1379.8 324.7 L1382.8 324.5 L1385.8 324.3 L1388.8 324.1 L1391.8 323.9 L1394.8 323.7 L1397.8 323.5 L1400.8 323.3 L1403.8 323.1 L1406.8 322.9 L1409.8 322.6 L1412.8 322.4 L1415.8 322.2 L1418.8 322.0 L1421.8 321.8 L1424.8 321.6 L1427.8 321.4 L1430.8 321.2 L1433.8 321.0 L1436.8 320.8 L1439.8 320.6 L1442.8 320.5 L1445.8 320.3 L1448.8 320.1 L1451.8 319.9 L1454.8 319.8 L1457.8 319.6 L1460.8 319.5 L1463.8 319.3 L1466.8 319.2 L1469.8 319.0 L1472.8 318.9 L1475.8 318.8 L1478.8 318.7 L1481.8 318.5 L1484.8 318.4 L1487.8 318.3 L1490.8 318.2 L1493.9 318.0 L1496.9 317.9 L1499.9 317.8 L1502.9 317.6 L1505.9 317.5 L1508.9 317.4 L1511.9 317.3 L1514.9 317.2 L1517.9 317.0 L1520.9 316.9 L1523.9 316.8 L1526.9 316.7 L1529.9 316.6 L1532.9 316.5 L1535.9 316.4 L1538.9 316.3 L1541.9 316.2 L1544.9 316.1 L1547.9 316.1 L1550.9 316.0 L1553.9 315.9 L1556.9 315.9 L1559.9 315.8 L1562.9 315.8 L1565.9 315.7 L1568.9 315.7 L1571.9 315.7 L1574.9 315.6 L1577.9 315.6 L1580.9 315.6 L1583.9 315.6 L1586.9 315.6 L1589.9 315.6 L1592.9 315.6 L1595.9 315.6 L1598.9 315.6 L1601.9 315.7 L1604.9 315.7 L1607.9 315.7 L1610.9 315.7 L1613.9 315.7 L1616.9 315.7 L1619.9 315.8 L1622.9 315.8 L1625.9 315.8 L1628.9 315.8 L1631.9 315.8 L1634.9 315.9 L1637.9 315.9 L1640.9 315.9 L1643.9 315.9 L1646.9 316.0 L1649.9 316.0 L1652.9 316.0 L1655.9 316.0 L1658.9 316.1 L1661.9 316.1 L1664.9 316.1 L1667.9 316.1 L1670.9 316.2 L1673.9 316.2 L1676.9 316.2 L1679.9 316.2 L1682.9 316.2 L1685.9 316.2 L1688.9 316.3 L1691.9 316.3 L1694.9 316.3 L1697.9 316.3 L1700.9 316.3 L1703.9 316.3 L1706.9 316.3 L1709.9 316.3 L1712.9 316.2 L1715.9 316.2 L1718.9 316.1 L1721.9 316.0 L1724.9 315.9 L1727.9 315.7 L1730.9 315.6 L1733.9 315.4 L1736.9 315.3 L1739.9 315.1 L1742.9 315.0 L1745.9 314.8 L1748.9 314.6 L1751.9 314.4 L1754.9 314.2 L1757.9 314.0 L1760.9 313.7 L1763.9 313.5 L1766.9 313.2 L1769.9 312.9 L1772.9 312.6 L1775.9 312.3 L1778.9 311.9 L1781.9 311.6 L1784.9 311.2 L1787.9 310.7 L1790.9 310.3 L1793.9 309.8 L1796.9 309.2 L1799.9 308.7 L1802.9 308.1 L1805.9 307.5 L1808.9 306.9 L1811.9 306.2 L1814.9 305.5 L1817.9 304.8 L1820.9 304.1 L1823.9 303.3 L1826.9 302.5 L1829.9 301.7 L1832.9 300.9 L1835.9 300.0 L1838.9 299.2 L1841.9 298.3 L1844.9 297.3 L1847.9 296.4 L1850.9 295.5 L1853.9 294.6 L1856.9 293.7 L1859.9 292.9 L1862.9 292.1 L1865.9 291.3 L1868.9 290.6 L1871.9 290.0 L1874.9 289.4 L1877.9 288.8 L1880.9 288.2 L1883.9 287.6 L1886.9 287.1 L1889.9 286.6 L1892.9 286.2 L1895.9 285.7 L1898.9 285.3 L1901.9 284.9 L1904.9 284.5 L1907.9 284.2 L1910.9 283.8 L1913.9 283.5 L1916.9 283.2 L1919.9 283.0 L1922.9 282.7 L1925.9 282.5 L1928.9 282.3 L1931.9 282.0 L1934.9 281.8 L1937.9 281.6 L1940.9 281.5 L1943.9 281.3 L1946.9 281.1 L1949.9 280.9 L1952.9 280.8 L1955.9 280.6 L1958.9 280.4 L1961.9 280.3 L1964.9 280.2 L1967.9 280.0 L1970.9 279.9 L1973.9 279.8 L1976.9 279.6 L1979.9 279.5 L1982.9 279.4 L1985.9 279.3 L1988.9 279.1 L1991.9 279.0 L1994.9 278.9 L1997.9 278.8 L2000.9 278.7 L2003.9 278.5 L2006.9 278.4 L2009.9 278.3 L2012.9 278.2 L2015.9 278.1 L2019.0 277.9 L2022.0 277.8 L2025.0 277.7 L2028.0 277.6 L2031.0 277.5 L2034.0 277.3 L2037.0 277.2 L2040.0 277.1 L2043.0 277.0 L2046.0 276.8 L2049.0 276.7 L2052.0 276.6 L2055.0 276.5 L2058.0 276.3 L2061.0 276.2 L2064.0 276.1 L2067.0 276.0 L2070.0 275.8 L2073.0 275.7 L2076.0 275.6 L2079.0 275.4 L2082.0 275.3 L2085.0 275.2 L2088.0 275.0 L2091.0 274.9 L2094.0 274.8 L2097.0 274.6 L2100.0 274.5 L2103.0 274.4 L2106.0 274.2 L2109.0 274.1 L2112.0 273.9 L2115.0 273.8 L2118.0 273.7 L2121.0 273.5 L2124.0 273.4 L2127.0 273.2 L2130.0 273.1 L2133.0 272.9 L2136.0 272.8 L2139.0 272.6 L2142.0 272.5 L2145.0 272.3 L2148.0 272.2 L2151.0 272.0 L2154.0 271.9 L2157.0 271.7 L2160.0 271.6 L2163.0 271.4 L2166.0 271.2 L2169.0 271.1 L2172.0 270.9 L2175.0 270.7 L2178.0 270.6 L2181.0 270.4 L2184.0 270.2 L2187.0 270.0 L2190.0 269.8 L2193.0 269.7 L2196.0 269.5 L2199.0 269.3 L2202.0 269.1 L2205.0 268.9 L2208.0 268.7 L2211.0 268.5 L2214.0 268.3 L2217.0 268.1 L2220.0 267.9 L2223.0 267.7 L2226.0 267.4 L2229.0 267.2 L2232.0 267.0 L2235.0 266.8 L2238.0 266.6 L2241.0 266.4 L2244.0 266.1 L2247.0 265.9 L2250.0 265.7 L2253.0 265.4 L2256.0 265.2 L2259.0 265.0 L2262.0 264.7 L2265.0 264.5 L2268.0 264.3 L2271.0 264.0 L2274.0 263.8 L2277.0 263.5 L2280.0 263.3" stroke="#008000" stroke-width="7.1"/>
<path d="M366.3 599.5 L369.3 598.6 L372.4 597.7 L375.4 597.0 L378.5 596.5 L381.5 596.2 L384.6 596.4 L387.6 596.9 L390.7 597.7 L393.7 598.8 L396.8 600.2 L399.8 601.8 L402.9 603.7 L405.9 605.9 L409.0 608.3 L412.0 610.8 L415.1 613.6 L418.1 616.5 L421.2 619.5 L424.2 622.8 L427.3 626.3 L430.3 629.9 L433.4 633.5 L436.4 636.9 L439.5 640.0 L442.5 642.8 L445.6 645.5 L448.6 648.5 L451.7 651.8 L454.7 655.5 L457.8 659.5 L460.8 663.4 L463.9 667.1 L466.9 670.4 L470.0 673.3 L473.0 675.9 L473.0 675.9 L476.0 676.3 L479.1 676.8 L482.1 677.3 L485.2 677.9 L488.2 678.5 L491.3 679.1 L494.3 679.8 L497.4 680.6 L500.4 681.4 L503.5 682.2 L506.5 683.1 L506.5 683.1 L509.5 681.7 L512.5 679.9 L515.5 677.6 L518.5 674.6 L521.5 670.9 L524.5 666.8 L527.5 662.4 L530.5 658.1 L533.5 653.9 L536.5 650.0 L539.5 646.3 L542.5 643.0 L545.5 640.0 L548.5 637.1 L551.5 634.2 L554.6 631.2 L557.6 628.0 L560.6 624.4 L563.6 620.3 L566.6 615.9 L569.6 611.2 L572.6 606.5 L575.6 601.9 L578.6 597.6 L581.6 593.4 L584.6 589.5 L587.6 585.6 L590.6 581.7 L593.6 577.7 L596.6 573.5 L599.6 569.1 L602.6 564.4 L605.6 559.4 L608.6 554.0 L611.6 548.1 L614.6 541.8 L617.6 535.0 L620.6 528.0 L623.6 520.8 L626.6 513.5 L629.6 506.5 L632.6 499.7 L635.6 493.2 L638.6 487.2 L641.6 481.6 L644.6 476.5 L647.7 471.9 L650.7 467.9 L653.7 464.2 L656.7 461.0 L659.7 458.1 L662.7 455.4 L665.7 452.9 L668.7 450.7 L671.7 448.7 L674.7 446.8 L677.7 445.1 L680.7 443.5 L683.7 441.9 L686.7 440.3 L689.7 438.7 L692.7 437.1 L701.7 453.3 L704.7 451.8 L707.7 450.4 L710.7 448.9 L713.7 447.6 L716.7 446.3 L719.7 445.1 L722.7 444.0 L725.7 442.9 L728.7 441.9 L731.7 441.0 L734.7 440.1 L737.7 439.3 L740.7 438.4 L743.7 437.6 L746.7 436.8 L749.7 435.9 L752.7 435.0 L755.7 434.1 L758.7 433.2 L761.7 432.1 L764.7 431.0 L767.7 429.9 L770.7 428.6 L773.7 427.4 L776.7 426.0 L779.7 424.7 L782.7 423.3 L785.7 421.9 L788.7 420.5 L791.7 419.2 L794.7 417.9 L797.7 416.6 L800.7 415.4 L803.7 414.3 L806.7 413.2 L809.7 412.1 L812.7 411.0 L815.7 410.0 L818.7 408.9 L821.7 408.0 L824.7 407.0 L827.7 406.1 L830.7 405.2 L833.7 404.4 L836.7 403.7 L839.7 403.0 L842.7 402.4 L845.7 401.8 L848.7 401.3 L851.7 400.9 L854.7 400.5 L857.7 400.1 L860.7 399.7 L863.7 399.4 L866.7 399.0 L869.7 398.7 L872.7 398.4 L875.7 398.0 L878.7 397.6 L881.7 397.2 L884.7 396.8 L887.7 396.4 L890.7 396.0 L893.7 395.6 L896.7 395.2 L899.7 394.8 L902.7 394.3 L905.7 393.9 L908.7 393.5 L911.7 393.0 L914.7 392.6 L917.7 392.2 L920.7 391.8 L923.7 391.4 L926.7 391.0 L929.7 390.7 L932.7 390.3 L935.7 389.9 L938.7 389.6 L941.7 389.3 L944.7 388.9 L947.7 388.6 L950.7 388.3 L953.7 388.0 L956.7 387.7 L959.7 387.3 L962.7 387.0 L965.8 386.7 L968.8 386.4 L971.8 386.2 L974.8 385.9 L977.8 385.6 L980.8 385.3 L983.8 385.0 L986.8 384.7 L989.8 384.5 L992.8 384.2 L995.8 383.9 L998.8 383.7 L1001.8 383.4 L1004.8 383.1 L1007.8 382.9 L1010.8 382.6 L1013.8 382.4 L1016.8 382.1 L1019.8 381.9 L1022.8 381.6 L1025.8 381.4 L1028.8 381.1 L1031.8 380.9 L1034.8 380.7 L1037.8 380.5 L1040.8 380.2 L1043.8 380.0 L1046.8 379.8 L1049.8 379.6 L1052.8 379.4 L1055.8 379.2 L1058.8 379.0 L1061.8 378.7 L1064.8 378.5 L1067.8 378.3 L1070.8 378.1 L1073.8 377.9 L1076.8 377.7 L1079.8 377.5 L1082.8 377.2 L1085.8 377.0 L1088.8 376.8 L1091.8 376.6 L1094.8 376.3 L1097.8 376.1 L1100.8 375.8 L1103.8 375.6 L1106.8 375.3 L1109.8 375.1 L1112.8 374.8 L1115.8 374.6 L1118.8 374.3 L1121.8 374.1 L1124.8 373.8 L1127.8 373.6 L1130.8 373.3 L1133.8 373.1 L1136.8 372.8 L1139.8 372.5 L1142.8 372.2 L1145.8 371.9 L1148.8 371.6 L1151.8 371.3 L1154.8 371.0 L1157.8 370.7 L1160.8 370.3 L1163.8 369.9 L1166.8 369.5 L1169.8 369.1 L1172.8 368.7 L1175.8 368.2 L1178.8 367.7 L1181.8 367.1 L1184.8 366.4 L1187.8 365.7 L1190.8 365.0 L1193.8 364.3 L1196.8 363.5 L1199.8 362.7 L1202.8 362.0 L1205.8 361.2 L1208.8 360.4 L1211.8 359.6 L1214.8 358.8 L1217.8 358.0 L1220.8 357.1 L1223.8 356.2 L1226.8 355.4 L1229.8 354.5 L1232.8 353.7 L1235.8 352.9 L1238.8 352.1 L1241.8 351.4 L1244.8 350.8 L1247.8 350.3 L1250.8 349.8 L1253.8 349.4 L1256.8 349.1 L1259.8 348.8 L1262.8 348.6 L1265.8 348.4 L1268.8 348.1 L1271.8 348.0 L1274.8 347.8 L1277.8 347.6 L1280.8 347.4 L1283.8 347.3 L1286.8 347.1 L1289.8 347.0 L1292.8 346.8 L1295.8 346.7 L1298.8 346.5 L1301.8 346.4 L1304.8 346.2 L1307.8 346.1 L1310.8 346.0 L1313.8 345.9 L1316.8 345.7 L1319.8 345.6 L1322.8 345.5 L1325.8 345.4 L1328.8 345.3 L1331.8 345.1 L1334.8 345.0 L1337.8 344.9 L1340.8 344.8 L1343.8 344.6 L1346.8 344.5 L1349.8 344.3 L1352.8 344.2 L1355.8 344.0 L1358.8 343.8 L1361.8 343.7 L1364.8 343.5 L1367.8 343.3 L1370.8 343.0 L1373.8 342.8 L1376.8 342.6 L1379.8 342.3 L1382.8 342.1 L1385.8 341.8 L1388.8 341.5 L1391.8 341.2 L1394.8 340.9 L1397.8 340.6 L1400.8 340.3 L1403.8 340.0 L1406.8 339.7 L1409.8 339.4 L1412.8 339.1 L1415.8 338.8 L1418.8 338.5 L1421.8 338.2 L1424.8 337.8 L1427.8 337.5 L1430.8 337.2 L1433.8 336.9 L1436.8 336.6 L1439.8 336.3 L1442.8 336.0 L1445.8 335.7 L1448.8 335.5 L1451.8 335.2 L1454.8 334.9 L1457.8 334.7 L1460.8 334.5 L1463.8 334.2 L1466.8 334.0 L1469.8 333.8 L1472.8 333.6 L1475.8 333.4 L1478.8 333.2 L1481.8 333.1 L1484.8 332.9 L1487.8 332.7 L1490.8 332.5 L1493.9 332.3 L1496.9 332.2 L1499.9 332.0 L1502.9 331.8 L1505.9 331.6 L1508.9 331.5 L1511.9 331.3 L1514.9 331.1 L1517.9 331.0 L1520.9 330.8 L1523.9 330.7 L1526.9 330.5 L1529.9 330.4 L1532.9 330.2 L1535.9 330.1 L1538.9 329.9 L1541.9 329.8 L1544.9 329.7 L1547.9 329.6 L1550.9 329.4 L1553.9 329.3 L1556.9 329.2 L1559.9 329.2 L1562.9 329.1 L1565.9 329.0 L1568.9 328.9 L1571.9 328.9 L1574.9 328.8 L1577.9 328.8 L1580.9 328.7 L1583.9 328.7 L1586.9 328.7 L1589.9 328.6 L1592.9 328.6 L1595.9 328.6 L1598.9 328.6 L1601.9 328.5 L1604.9 328.5 L1607.9 328.5 L1610.9 328.5 L1613.9 328.5 L1616.9 328.5 L1619.9 328.5 L1622.9 328.4 L1625.9 328.4 L1628.9 328.4 L1631.9 328.4 L1634.9 328.4 L1637.9 328.4 L1640.9 328.4 L1643.9 328.4 L1646.9 328.4 L1649.9 328.4 L1652.9 328.3 L1655.9 328.3 L1658.9 328.3 L1661.9 328.3 L1664.9 328.3 L1667.9 328.3 L1670.9 328.3 L1673.9 328.3 L1676.9 328.2 L1679.9 328.2 L1682.9 328.2 L1685.9 328.2 L1688.9 328.2 L1691.9 328.2 L1694.9 328.1 L1697.9 328.1 L1700.9 328.1 L1703.9 328.0 L1706.9 328.0 L1709.9 327.9 L1712.9 327.9 L1715.9 327.8 L1718.9 327.7 L1721.9 327.6 L1724.9 327.4 L1727.9 327.3 L1730.9 327.1 L1733.9 327.0 L1736.9 326.8 L1739.9 326.6 L1742.9 326.4 L1745.9 326.2 L1748.9 326.0 L1751.9 325.8 L1754.9 325.5 L1757.9 325.2 L1760.9 324.9 L1763.9 324.6 L1766.9 324.3 L1769.9 324.0 L1772.9 323.6 L1775.9 323.3 L1778.9 322.9 L1781.9 322.5 L1784.9 322.1 L1787.9 321.6 L1790.9 321.1 L1793.9 320.6 L1796.9 320.1 L1799.9 319.5 L1802.9 318.9 L1805.9 318.3 L1808.9 317.6 L1811.9 316.9 L1814.9 316.2 L1817.9 315.4 L1820.9 314.6 L1823.9 313.8 L1826.9 312.9 L1829.9 312.0 L1832.9 311.2 L1835.9 310.3 L1838.9 309.4 L1841.9 308.4 L1844.9 307.5 L1847.9 306.6 L1850.9 305.6 L1853.9 304.7 L1856.9 303.9 L1859.9 303.0 L1862.9 302.3 L1865.9 301.5 L1868.9 300.8 L1871.9 300.1 L1874.9 299.5 L1877.9 298.9 L1880.9 298.3 L1883.9 297.8 L1886.9 297.3 L1889.9 296.9 L1892.9 296.5 L1895.9 296.1 L1898.9 295.8 L1901.9 295.4 L1904.9 295.1 L1907.9 294.9 L1910.9 294.6 L1913.9 294.4 L1916.9 294.1 L1919.9 293.9 L1922.9 293.7 L1925.9 293.5 L1928.9 293.4 L1931.9 293.2 L1934.9 293.0 L1937.9 292.9 L1940.9 292.7 L1943.9 292.6 L1946.9 292.5 L1949.9 292.3 L1952.9 292.2 L1955.9 292.1 L1958.9 292.0 L1961.9 291.9 L1964.9 291.8 L1967.9 291.7 L1970.9 291.6 L1973.9 291.5 L1976.9 291.4 L1979.9 291.3 L1982.9 291.2 L1985.9 291.2 L1988.9 291.1 L1991.9 291.0 L1994.9 290.9 L1997.9 290.8 L2000.9 290.6 L2003.9 290.5 L2006.9 290.4 L2009.9 290.3 L2012.9 290.1 L2015.9 290.0 L2019.0 289.8 L2022.0 289.6 L2025.0 289.5 L2028.0 289.3 L2031.0 289.1 L2034.0 288.9 L2037.0 288.8 L2040.0 288.6 L2043.0 288.4 L2046.0 288.2 L2049.0 288.0 L2052.0 287.8 L2055.0 287.7 L2058.0 287.5 L2061.0 287.3 L2064.0 287.1 L2067.0 286.9 L2070.0 286.8 L2073.0 286.6 L2076.0 286.4 L2079.0 286.3 L2082.0 286.1 L2085.0 285.9 L2088.0 285.7 L2091.0 285.6 L2094.0 285.4 L2097.0 285.2 L2100.0 285.0 L2103.0 284.9 L2106.0 284.7 L2109.0 284.5 L2112.0 284.3 L2115.0 284.2 L2118.0 284.0 L2121.0 283.8 L2124.0 283.6 L2127.0 283.5 L2130.0 283.3 L2133.0 283.1 L2136.0 282.9 L2139.0 282.7 L2142.0 282.5 L2145.0 282.4 L2148.0 282.2 L2151.0 282.0 L2154.0 281.8 L2157.0 281.6 L2160.0 281.4 L2163.0 281.2 L2166.0 281.0 L2169.0 280.9 L2172.0 280.7 L2175.0 280.5 L2178.0 280.3 L2181.0 280.1 L2184.0 279.9 L2187.0 279.7 L2190.0 279.5 L2193.0 279.3 L2196.0 279.1 L2199.0 278.8 L2202.0 278.6 L2205.0 278.4 L2208.0 278.2 L2211.0 278.0 L2214.0 277.8 L2217.0 277.6 L2220.0 277.4 L2223.0 277.1 L2226.0 276.9 L2229.0 276.7 L2232.0 276.5 L2235.0 276.3 L2238.0 276.0 L2241.0 275.8 L2244.0 275.6 L2247.0 275.4 L2250.0 275.1 L2253.0 274.9 L2256.0 274.7 L2259.0 274.4 L2262.0 274.2 L2265.0 274.0 L2268.0 273.7 L2271.0 273.5 L2274.0 273.3 L2277.0 273.0 L2280.0 272.8" stroke="#ff0000" stroke-width="6.5"/>
<path d="M366.3 641.8 L369.4 639.4 L372.4 637.0 L375.5 634.7 L378.5 632.7 L381.6 630.8 L384.7 629.2 L387.7 627.8 L390.8 626.6 L393.8 625.7 L396.9 625.2 L399.9 625.0 L403.0 625.1 L406.1 625.4 L409.1 626.0 L412.2 626.7 L415.2 627.7 L418.3 628.8 L421.4 630.0 L424.4 631.3 L427.5 632.7 L430.5 634.0 L433.6 635.3 L436.7 636.5 L439.7 637.6 L442.8 638.5 L445.8 639.5 L448.9 640.5 L451.9 641.7 L455.0 643.0 L458.1 644.5 L461.1 646.0 L464.2 647.5 L467.2 649.1 L470.3 650.6 L470.3 650.6 L473.3 649.6 L476.3 648.6 L479.4 647.6 L482.4 646.6 L485.4 645.6 L488.4 644.5 L491.4 643.5 L494.4 642.4 L497.4 641.3 L500.5 640.2 L503.5 639.0 L506.5 637.9 L506.5 637.9 L509.5 635.3 L512.5 632.4 L515.6 629.1 L518.6 625.3 L521.6 621.2 L524.6 616.7 L527.6 612.2 L530.6 607.8 L533.7 603.7 L536.7 599.9 L539.7 596.5 L542.7 593.4 L545.7 590.6 L548.7 588.1 L551.8 585.7 L554.8 583.4 L557.8 581.0 L560.8 578.6 L563.8 576.1 L566.9 573.5 L569.9 570.9 L572.9 568.2 L575.9 565.4 L578.9 562.6 L581.9 559.8 L585.0 557.0 L588.0 554.1 L591.0 551.3 L594.0 548.6 L597.0 545.9 L600.0 543.1 L603.1 540.4 L606.1 537.7 L609.1 534.9 L612.1 532.1 L615.1 529.3 L618.2 526.5 L621.2 523.6 L624.2 520.7 L627.2 517.8 L630.2 514.9 L633.2 512.1 L636.3 509.2 L639.3 506.4 L642.3 503.7 L645.3 501.1 L648.3 498.7 L651.4 496.6 L654.4 494.6 L657.4 492.7 L660.4 491.0 L663.4 489.2 L666.4 487.5 L669.5 485.9 L672.5 484.4 L675.5 483.1 L678.5 481.9 L681.5 481.0 L684.5 480.1 L687.6 479.3 L690.6 478.5 L693.6 477.8 L701.7 486.8 L704.7 485.9 L707.7 485.1 L710.7 484.2 L713.7 483.3 L716.7 482.4 L719.7 481.5 L722.7 480.5 L725.7 479.6 L728.7 478.7 L731.7 477.7 L734.7 476.8 L737.7 475.8 L740.7 474.8 L743.7 473.8 L746.7 472.8 L749.7 471.8 L752.7 470.7 L755.7 469.7 L758.7 468.6 L761.7 467.4 L764.7 466.3 L767.7 465.1 L770.7 463.8 L773.7 462.5 L776.7 461.2 L779.7 459.8 L782.7 458.5 L785.7 457.1 L788.7 455.8 L791.7 454.4 L794.7 453.1 L797.7 451.8 L800.7 450.6 L803.7 449.4 L806.7 448.2 L809.7 447.1 L812.7 445.9 L815.7 444.8 L818.7 443.6 L821.7 442.5 L824.7 441.4 L827.7 440.4 L830.7 439.5 L833.7 438.6 L836.7 437.8 L839.7 437.1 L842.7 436.4 L845.7 435.9 L848.7 435.4 L851.7 435.0 L854.7 434.6 L857.7 434.3 L860.7 434.0 L863.7 433.6 L866.7 433.3 L869.7 433.0 L872.7 432.7 L875.7 432.4 L878.7 432.0 L881.7 431.6 L884.7 431.2 L887.7 430.7 L890.7 430.2 L893.7 429.7 L896.7 429.2 L899.7 428.7 L902.7 428.1 L905.7 427.6 L908.7 427.1 L911.7 426.5 L914.7 426.0 L917.7 425.4 L920.7 424.9 L923.7 424.4 L926.7 423.9 L929.7 423.5 L932.7 423.0 L935.7 422.6 L938.7 422.2 L941.7 421.8 L944.7 421.4 L947.7 421.1 L950.7 420.7 L953.7 420.3 L956.7 420.0 L959.7 419.6 L962.7 419.3 L965.8 418.9 L968.8 418.6 L971.8 418.3 L974.8 417.9 L977.8 417.6 L980.8 417.3 L983.8 417.0 L986.8 416.7 L989.8 416.4 L992.8 416.1 L995.8 415.8 L998.8 415.5 L1001.8 415.2 L1004.8 414.9 L1007.8 414.6 L1010.8 414.3 L1013.8 414.0 L1016.8 413.7 L1019.8 413.4 L1022.8 413.1 L1025.8 412.9 L1028.8 412.6 L1031.8 412.3 L1034.8 412.1 L1037.8 411.8 L1040.8 411.5 L1043.8 411.3 L1046.8 411.0 L1049.8 410.8 L1052.8 410.5 L1055.8 410.3 L1058.8 410.0 L1061.8 409.8 L1064.8 409.6 L1067.8 409.3 L1070.8 409.1 L1073.8 408.8 L1076.8 408.6 L1079.8 408.3 L1082.8 408.0 L1085.8 407.8 L1088.8 407.5 L1091.8 407.2 L1094.8 407.0 L1097.8 406.7 L1100.8 406.4 L1103.8 406.1 L1106.8 405.8 L1109.8 405.5 L1112.8 405.2 L1115.8 404.9 L1118.8 404.6 L1121.8 404.3 L1124.8 404.0 L1127.8 403.7 L1130.8 403.4 L1133.8 403.0 L1136.8 402.7 L1139.8 402.4 L1142.8 402.1 L1145.8 401.7 L1148.8 401.4 L1151.8 401.0 L1154.8 400.6 L1157.8 400.2 L1160.8 399.8 L1163.8 399.4 L1166.8 399.0 L1169.8 398.6 L1172.8 398.1 L1175.8 397.6 L1178.8 397.1 L1181.8 396.6 L1184.8 396.1 L1187.8 395.5 L1190.8 394.9 L1193.8 394.2 L1196.8 393.6 L1199.8 393.0 L1202.8 392.3 L1205.8 391.6 L1208.8 390.9 L1211.8 390.2 L1214.8 389.4 L1217.8 388.6 L1220.8 387.8 L1223.8 387.0 L1226.8 386.1 L1229.8 385.3 L1232.8 384.4 L1235.8 383.6 L1238.8 382.9 L1241.8 382.2 L1244.8 381.5 L1247.8 380.9 L1250.8 380.4 L1253.8 379.9 L1256.8 379.5 L1259.8 379.1 L1262.8 378.8 L1265.8 378.4 L1268.8 378.1 L1271.8 377.9 L1274.8 377.6 L1277.8 377.3 L1280.8 377.1 L1283.8 376.8 L1286.8 376.6 L1289.8 376.4 L1292.8 376.2 L1295.8 376.0 L1298.8 375.8 L1301.8 375.6 L1304.8 375.4 L1307.8 375.2 L1310.8 375.0 L1313.8 374.9 L1316.8 374.7 L1319.8 374.5 L1322.8 374.4 L1325.8 374.2 L1328.8 374.0 L1331.8 373.9 L1334.8 373.7 L1337.8 373.5 L1340.8 373.4 L1343.8 373.2 L1346.8 373.0 L1349.8 372.8 L1352.8 372.7 L1355.8 372.5 L1358.8 372.3 L1361.8 372.1 L1364.8 371.8 L1367.8 371.6 L1370.8 371.4 L1373.8 371.2 L1376.8 370.9 L1379.8 370.7 L1382.8 370.5 L1385.8 370.2 L1388.8 370.0 L1391.8 369.7 L1394.8 369.5 L1397.8 369.2 L1400.8 368.9 L1403.8 368.7 L1406.8 368.4 L1409.8 368.2 L1412.8 367.9 L1415.8 367.6 L1418.8 367.4 L1421.8 367.1 L1424.8 366.8 L1427.8 366.6 L1430.8 366.3 L1433.8 366.1 L1436.8 365.8 L1439.8 365.5 L1442.8 365.3 L1445.8 365.0 L1448.8 364.8 L1451.8 364.6 L1454.8 364.3 L1457.8 364.1 L1460.8 363.9 L1463.8 363.6 L1466.8 363.4 L1469.8 363.2 L1472.8 363.0 L1475.8 362.8 L1478.8 362.6 L1481.8 362.4 L1484.8 362.2 L1487.8 362.0 L1490.8 361.8 L1493.9 361.6 L1496.9 361.3 L1499.9 361.1 L1502.9 360.9 L1505.9 360.7 L1508.9 360.5 L1511.9 360.3 L1514.9 360.1 L1517.9 359.9 L1520.9 359.7 L1523.9 359.5 L1526.9 359.3 L1529.9 359.1 L1532.9 358.9 L1535.9 358.7 L1538.9 358.6 L1541.9 358.4 L1544.9 358.2 L1547.9 358.1 L1550.9 357.9 L1553.9 357.8 L1556.9 357.7 L1559.9 357.5 L1562.9 357.4 L1565.9 357.3 L1568.9 357.2 L1571.9 357.1 L1574.9 357.1 L1577.9 357.0 L1580.9 356.9 L1583.9 356.9 L1586.9 356.8 L1589.9 356.8 L1592.9 356.7 L1595.9 356.7 L1598.9 356.7 L1601.9 356.6 L1604.9 356.6 L1607.9 356.6 L1610.9 356.6 L1613.9 356.5 L1616.9 356.5 L1619.9 356.5 L1622.9 356.5 L1625.9 356.4 L1628.9 356.4 L1631.9 356.4 L1634.9 356.4 L1637.9 356.4 L1640.9 356.3 L1643.9 356.3 L1646.9 356.3 L1649.9 356.3 L1652.9 356.3 L1655.9 356.3 L1658.9 356.2 L1661.9 356.2 L1664.9 356.2 L1667.9 356.2 L1670.9 356.2 L1673.9 356.1 L1676.9 356.1 L1679.9 356.1 L1682.9 356.1 L1685.9 356.0 L1688.9 356.0 L1691.9 356.0 L1694.9 356.0 L1697.9 355.9 L1700.9 355.9 L1703.9 355.8 L1706.9 355.8 L1709.9 355.8 L1712.9 355.7 L1715.9 355.7 L1718.9 355.6 L1721.9 355.6 L1724.9 355.5 L1727.9 355.4 L1730.9 355.4 L1733.9 355.3 L1736.9 355.2 L1739.9 355.1 L1742.9 354.9 L1745.9 354.8 L1748.9 354.6 L1751.9 354.3 L1754.9 354.1 L1757.9 353.8 L1760.9 353.5 L1763.9 353.1 L1766.9 352.8 L1769.9 352.4 L1772.9 352.1 L1775.9 351.7 L1778.9 351.3 L1781.9 350.9 L1784.9 350.5 L1787.9 350.1 L1790.9 349.7 L1793.9 349.3 L1796.9 348.9 L1799.9 348.4 L1802.9 347.9 L1805.9 347.4 L1808.9 346.9 L1811.9 346.3 L1814.9 345.7 L1817.9 345.0 L1820.9 344.4 L1823.9 343.7 L1826.9 343.0 L1829.9 342.3 L1832.9 341.5 L1835.9 340.8 L1838.9 340.0 L1841.9 339.3 L1844.9 338.5 L1847.9 337.7 L1850.9 337.0 L1853.9 336.2 L1856.9 335.5 L1859.9 334.8 L1862.9 334.1 L1865.9 333.5 L1868.9 332.9 L1871.9 332.3 L1874.9 331.8 L1877.9 331.3 L1880.9 330.7 L1883.9 330.2 L1886.9 329.8 L1889.9 329.3 L1892.9 328.9 L1895.9 328.5 L1898.9 328.0 L1901.9 327.7 L1904.9 327.3 L1907.9 326.9 L1910.9 326.6 L1913.9 326.3 L1916.9 326.1 L1919.9 325.8 L1922.9 325.6 L1925.9 325.4 L1928.9 325.3 L1931.9 325.1 L1934.9 325.0 L1937.9 324.8 L1940.9 324.7 L1943.9 324.5 L1946.9 324.4 L1949.9 324.3 L1952.9 324.1 L1955.9 324.0 L1958.9 323.8 L1961.9 323.7 L1964.9 323.6 L1967.9 323.4 L1970.9 323.3 L1973.9 323.1 L1976.9 323.0 L1979.9 322.9 L1982.9 322.7 L1985.9 322.6 L1988.9 322.5 L1991.9 322.3 L1994.9 322.2 L1997.9 322.0 L2000.9 321.8 L2003.9 321.7 L2006.9 321.5 L2009.9 321.3 L2012.9 321.1 L2015.9 320.9 L2019.0 320.7 L2022.0 320.5 L2025.0 320.3 L2028.0 320.1 L2031.0 319.9 L2034.0 319.7 L2037.0 319.5 L2040.0 319.3 L2043.0 319.1 L2046.0 318.9 L2049.0 318.6 L2052.0 318.4 L2055.0 318.2 L2058.0 318.0 L2061.0 317.8 L2064.0 317.6 L2067.0 317.4 L2070.0 317.3 L2073.0 317.1 L2076.0 316.9 L2079.0 316.7 L2082.0 316.5 L2085.0 316.4 L2088.0 316.2 L2091.0 316.0 L2094.0 315.8 L2097.0 315.7 L2100.0 315.5 L2103.0 315.3 L2106.0 315.2 L2109.0 315.0 L2112.0 314.8 L2115.0 314.7 L2118.0 314.5 L2121.0 314.3 L2124.0 314.2 L2127.0 314.0 L2130.0 313.8 L2133.0 313.6 L2136.0 313.5 L2139.0 313.3 L2142.0 313.1 L2145.0 313.0 L2148.0 312.8 L2151.0 312.6 L2154.0 312.4 L2157.0 312.2 L2160.0 312.0 L2163.0 311.9 L2166.0 311.7 L2169.0 311.5 L2172.0 311.3 L2175.0 311.1 L2178.0 310.9 L2181.0 310.7 L2184.0 310.4 L2187.0 310.2 L2190.0 310.0 L2193.0 309.8 L2196.0 309.6 L2199.0 309.3 L2202.0 309.1 L2205.0 308.9 L2208.0 308.7 L2211.0 308.4 L2214.0 308.2 L2217.0 307.9 L2220.0 307.7 L2223.0 307.5 L2226.0 307.2 L2229.0 307.0 L2232.0 306.7 L2235.0 306.4 L2238.0 306.2 L2241.0 305.9 L2244.0 305.7 L2247.0 305.4 L2250.0 305.1 L2253.0 304.9 L2256.0 304.6 L2259.0 304.3 L2262.0 304.1 L2265.0 303.8 L2268.0 303.5 L2271.0 303.2 L2274.0 303.0 L2277.0 302.7 L2280.0 302.4" stroke="#0000ff" stroke-width="6.5"/>
</g>
<g stroke="#000" stroke-width="4.8" fill="none">
<path d="M1581.5 266.2V394" stroke-dasharray="20.5 15.1"/>
<path d="M1708 269.6V395" stroke-dasharray="20.5 15.1"/>
<path d="M1598.6 268.5H1700" stroke-dasharray="21 15.5"/>
<path d="M1596.4 393.5H1700" stroke-dasharray="21 15"/>
<path d="M1577.9 401L1303 538.1" stroke-dasharray="20.5 14.6"/>
<path d="M1707.9 394.5L2220 539.9" stroke-dasharray="20.7 15.4" stroke-dashoffset="3.1"/>
</g>
<g stroke="#000" stroke-width="5.6" fill="none" stroke-linecap="butt">
<rect x="366.0" y="78.0" width="1916.0" height="1407.5"/>
<path d="M337.0 1485.5H366.0M351.0 1415.1H366.0M337.0 1344.8H366.0M351.0 1274.4H366.0M337.0 1204.0H366.0M351.0 1133.6H366.0M337.0 1063.2H366.0M351.0 992.9H366.0M337.0 922.5H366.0M351.0 852.1H366.0M337.0 781.8H366.0M351.0 711.4H366.0M337.0 641.0H366.0M351.0 570.6H366.0M337.0 500.2H366.0M351.0 429.9H366.0M337.0 359.5H366.0M351.0 289.1H366.0M337.0 218.8H366.0M351.0 148.4H366.0M337.0 78.0H366.0M366.0 1485.5V1512.5M472.4 1485.5V1500.5M578.9 1485.5V1512.5M685.3 1485.5V1500.5M791.8 1485.5V1512.5M898.2 1485.5V1500.5M1004.7 1485.5V1512.5M1111.1 1485.5V1500.5M1217.6 1485.5V1512.5M1324.0 1485.5V1500.5M1430.4 1485.5V1512.5M1536.9 1485.5V1500.5M1643.3 1485.5V1512.5M1749.8 1485.5V1500.5M1856.2 1485.5V1512.5M1962.7 1485.5V1500.5M2069.1 1485.5V1512.5M2175.6 1485.5V1500.5M2282.0 1485.5V1512.5"/>
</g>
<g font-size="92.5" fill="#000" lengthAdjust="spacingAndGlyphs">
<text x="320" y="1503.0" text-anchor="end" textLength="48.1" lengthAdjust="spacingAndGlyphs">0</text>
<text x="320" y="1362.2" text-anchor="end" textLength="96.2" lengthAdjust="spacingAndGlyphs">10</text>
<text x="320" y="1221.5" text-anchor="end" textLength="96.2" lengthAdjust="spacingAndGlyphs">20</text>
<text x="320" y="1080.8" text-anchor="end" textLength="96.2" lengthAdjust="spacingAndGlyphs">30</text>
<text x="320" y="940.0" text-anchor="end" textLength="96.2" lengthAdjust="spacingAndGlyphs">40</text>
<text x="320" y="799.2" text-anchor="end" textLength="96.2" lengthAdjust="spacingAndGlyphs">50</text>
<text x="320" y="658.5" text-anchor="end" textLength="96.2" lengthAdjust="spacingAndGlyphs">60</text>
<text x="320" y="517.8" text-anchor="end" textLength="96.2" lengthAdjust="spacingAndGlyphs">70</text>
<text x="320" y="377.0" text-anchor="end" textLength="96.2" lengthAdjust="spacingAndGlyphs">80</text>
<text x="320" y="236.2" text-anchor="end" textLength="96.2" lengthAdjust="spacingAndGlyphs">90</text>
<text x="320" y="95.5" text-anchor="end" textLength="144.3" lengthAdjust="spacingAndGlyphs">100</text>
<text x="366.0" y="1592.7" text-anchor="middle" textLength="144.3" lengthAdjust="spacingAndGlyphs">250</text>
<text x="578.9" y="1592.7" text-anchor="middle" textLength="144.3" lengthAdjust="spacingAndGlyphs">300</text>
<text x="791.8" y="1592.7" text-anchor="middle" textLength="144.3" lengthAdjust="spacingAndGlyphs">350</text>
<text x="1004.7" y="1592.7" text-anchor="middle" textLength="144.3" lengthAdjust="spacingAndGlyphs">400</text>
<text x="1217.6" y="1592.7" text-anchor="middle" textLength="144.3" lengthAdjust="spacingAndGlyphs">450</text>
<text x="1430.4" y="1592.7" text-anchor="middle" textLength="144.3" lengthAdjust="spacingAndGlyphs">500</text>
<text x="1643.3" y="1592.7" text-anchor="middle" textLength="144.3" lengthAdjust="spacingAndGlyphs">550</text>
<text x="1856.2" y="1592.7" text-anchor="middle" textLength="144.3" lengthAdjust="spacingAndGlyphs">600</text>
<text x="2069.1" y="1592.7" text-anchor="middle" textLength="144.3" lengthAdjust="spacingAndGlyphs">650</text>
<text x="2282.0" y="1592.7" text-anchor="middle" textLength="144.3" lengthAdjust="spacingAndGlyphs">700</text>
</g>
<text x="1324.5" y="1766" font-size="104" text-anchor="middle" textLength="789" lengthAdjust="spacingAndGlyphs">Wavelength (nm)</text>
<text transform="translate(133.8 821.8) rotate(-90)" font-size="107" text-anchor="middle" textLength="790" lengthAdjust="spacingAndGlyphs">Transmitance (%)</text>
<g stroke-linecap="round" fill="none">
<path d="M423 953.4H616.5" stroke="#000" stroke-width="6.2"/>
<path d="M423 1057.9H616.5" stroke="#00ffff" stroke-width="8.4"/>
<path d="M423 1162.1H616.5" stroke="#008000" stroke-width="7.0"/>
<path d="M423 1266.3H616.5" stroke="#ff0000" stroke-width="6.2"/>
<path d="M423 1370.8H616.5" stroke="#0000ff" stroke-width="6.2"/>
</g>
<g font-size="74.7" fill="#000">
<text x="634" y="979.4">LDPE</text>
<text x="634" y="1083.9">LDPE/CA</text>
<text x="634" y="1188.1">LDPE/CA-CM1</text>
<text x="634" y="1292.3">LDPE/CA-CM3</text>
<text x="634" y="1396.8">LDPE/CA-CM5</text>
</g>
<rect x="1304.5" y="538.6" width="915.5" height="671.7" fill="#fff"/>
<g fill="none" stroke-linecap="butt">
<path d="M1304.5 632.5 L1760.0 630.0 L2220.0 631.5" stroke="#00ffff" stroke-width="5.5"/>
<path d="M1304.5 672.5 L1760.0 670.5 L2220.0 670.3" stroke="#404040" stroke-width="3.6"/>
<path d="M1304.5 664.0 L1760.0 661.5 L2220.0 662.7" stroke="#00a651" stroke-width="5.0"/>
<path d="M1304.5 727.3 L1760.0 723.2 L2220.0 723.8" stroke="#ff3c3c" stroke-width="4.2"/>
<path d="M1304.5 866.0 L1760.0 860.5 L2220.0 860.7" stroke="#3c3cff" stroke-width="4.2"/>
</g>
<g fill="none">
<path d="M1304.5 538.6H2220.0V1210.3" stroke="#666" stroke-width="3.4"/>
<path d="M1304.5 537.1V1210.3H2221.5M1297.0 1210.3H1304.5M1289.5 1143.1H1304.5M1297.0 1076.0H1304.5M1289.5 1008.8H1304.5M1297.0 941.6H1304.5M1289.5 874.5H1304.5M1297.0 807.3H1304.5M1289.5 740.1H1304.5M1297.0 672.9H1304.5M1289.5 605.8H1304.5M1297.0 538.6H1304.5M1304.5 1210.3V1223.8M1418.9 1210.3V1217.3M1533.4 1210.3V1223.8M1647.8 1210.3V1217.3M1762.2 1210.3V1223.8M1876.7 1210.3V1217.3M1991.1 1210.3V1223.8M2105.6 1210.3V1217.3M2220.0 1210.3V1223.8" stroke="#444" stroke-width="3.2"/>
</g>
<g font-size="47.5" fill="#333">
<text x="1283" y="1153.9" text-anchor="end">76</text>
<text x="1283" y="1019.6" text-anchor="end">78</text>
<text x="1283" y="885.2" text-anchor="end">80</text>
<text x="1283" y="750.9" text-anchor="end">82</text>
<text x="1283" y="616.6" text-anchor="end">84</text>
<text x="1304.5" y="1265" text-anchor="middle">540</text>
<text x="1533.4" y="1265" text-anchor="middle">545</text>
<text x="1762.2" y="1265" text-anchor="middle">550</text>
<text x="1991.1" y="1265" text-anchor="middle">555</text>
<text x="2220.0" y="1265" text-anchor="middle">560</text>
</g>
<g fill="none">
<path d="M1853.2 953.7H1947.6" stroke="#404040" stroke-width="4.0"/>
<path d="M1853.2 1003.6H1947.6" stroke="#00ffff" stroke-width="5.5"/>
<path d="M1853.2 1053.5H1947.6" stroke="#00943c" stroke-width="5.0"/>
<path d="M1853.2 1103.2H1947.6" stroke="#ff4040" stroke-width="4.5"/>
<path d="M1853.2 1153.1H1947.6" stroke="#4848ff" stroke-width="4.5"/>
</g>
<g font-size="36.7" fill="#2a2a2a">
<text x="1953" y="966.6">LDPE</text>
<text x="1953" y="1016.5">LDPE/CA</text>
<text x="1953" y="1066.4">LDPE/CA-CM1</text>
<text x="1953" y="1116.1">LDPE/CA-CM3</text>
<text x="1953" y="1166.0">LDPE/CA-CM5</text>
</g>
</svg></body></html>
